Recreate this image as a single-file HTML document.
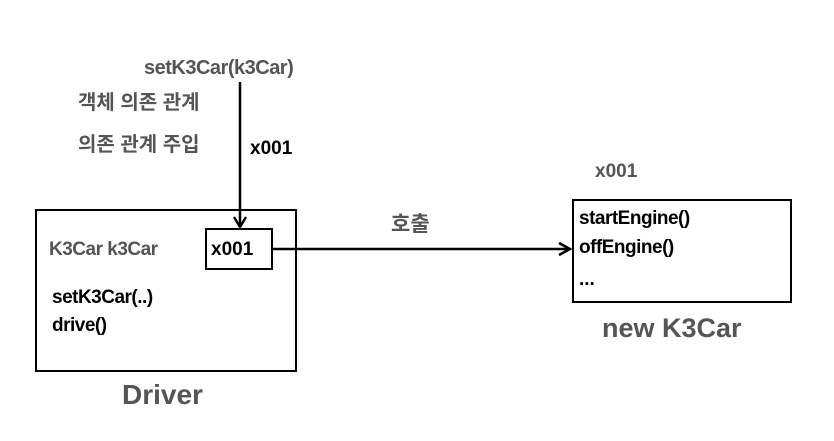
<!DOCTYPE html>
<html><head><meta charset="utf-8"><style>
body{margin:0;width:834px;height:441px;background:#fff;overflow:hidden;position:relative;font-family:"Liberation Sans","Noto Sans CJK KR",sans-serif;font-weight:bold}
.t{position:absolute;white-space:nowrap;line-height:1}
.g{color:#555}
.b{color:#000}
.box{position:absolute;border:2px solid #000;box-sizing:border-box}
</style></head><body>
<div class="box" style="left:35px;top:209px;width:262px;height:163px"></div>
<div class="box" style="left:205px;top:228px;width:68px;height:42px"></div>
<div class="box" style="left:572px;top:199px;width:220px;height:104px"></div>
<svg width="834" height="441" style="position:absolute;left:0;top:0">
<line x1="240" y1="82" x2="240" y2="227" stroke="#000" stroke-width="2.5"/>
<polyline points="234,217 240,227 246,217" fill="none" stroke="#000" stroke-width="2.5"/>
<line x1="273" y1="249" x2="570" y2="249" stroke="#000" stroke-width="2.5"/>
<polyline points="559,243 570,249 559,255" fill="none" stroke="#000" stroke-width="2.5"/>
</svg>
<div class="t g" style="left:144px;top:58px;font-size:20px;letter-spacing:-0.5px">setK3Car(k3Car)</div>
<div class="t g" style="left:78px;top:93px;font-size:20px">객체 의존 관계</div>
<div class="t g" style="left:78px;top:135px;font-size:20px">의존 관계 주입</div>
<div class="t b" style="left:250px;top:139px;font-size:19px">x001</div>
<div class="t g" style="left:49px;top:240px;font-size:19px;letter-spacing:-0.5px">K3Car k3Car</div>
<div class="t b" style="left:211px;top:240px;font-size:19px">x001</div>
<div class="t b" style="left:52px;top:288px;font-size:19px;letter-spacing:-0.5px">setK3Car(..)</div>
<div class="t b" style="left:52px;top:316px;font-size:19px;letter-spacing:-0.5px">drive()</div>
<div class="t g" style="left:122px;top:381px;font-size:28px">Driver</div>
<div class="t g" style="left:391px;top:214px;font-size:21px">호출</div>
<div class="t g" style="left:595px;top:162px;font-size:19px">x001</div>
<div class="t b" style="left:579px;top:209px;font-size:19px;letter-spacing:-0.5px">startEngine()</div>
<div class="t b" style="left:579px;top:238px;font-size:19px;letter-spacing:-0.5px">offEngine()</div>
<div class="t b" style="left:579px;top:270px;font-size:19px">...</div>
<div class="t g" style="left:602px;top:315px;font-size:27px">new K3Car</div>
</body></html>
